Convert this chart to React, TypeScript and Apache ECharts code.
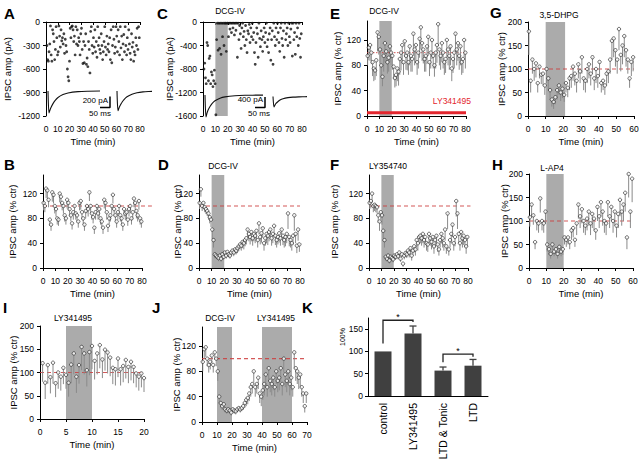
import React, { useEffect, useRef } from "react";
import * as echarts from "echarts";

const FONT = "'Liberation Sans', Arial, Helvetica, sans-serif";

// ---------------- DATA ----------------
const aStart = 0.8, aStep = 0.6;
const ampA = [
  -300, -480, -500, -380, -280, -50, -420, -500, -100, -150,
  -250, -480, -350, -60, -200, -420, -380, -50, -180, -320,
  -100, -240, -200, -280, -150, -400, -220, -300, -380, -600,
  -700, -750, -500, -80, -200, -60, -50, -100, -250, -180,
  -420, -60, -280, -100, -300, -200, -250, -420, -150, -80,
  -350, -530, -250, -520, -300, -150, -540, -460, -570, -250,
  -350, -650, -120, -60, -300, -400, -200, -320, -100, -380,
  -250, -450, -60, -300, -200, -350, -400, -150, -300, -480,
  -380, -250, -60, -320, -420, -180, -350, -280, -380, -200,
  -480, -100, -520, -300, -60, -220, -400, -320, -60, -180,
  -380, -100, -250, -420, -60, -330, -180, -480, -280, -160,
  -380, -60, -300, -420, -200, -350, -100, -280, -400, -480,
  -150, -320, -260, -500, -380, -420, -200, -300, -80, -350,
  -60, -200,
];
const ampC = [
  -800, -700, -950, -1050, -350, -400, -1000, -620, -580, -1050,
  -850, -900, -1100, -1000, -820, -1050, -1580, -300, -20, -480,
  -20, -450, -20, -550, -20, -250, -20, -400, -20, -20,
  -500, -20, -20, -250, -20, -120, -20, -180, -20, -100,
  -20, -220, -20, -140, -20, -600, -20, -300, -60, -200,
  -450, -100, -20, -250, -160, -400, -60, -300, -520, -150,
  -200, -40, -350, -100, -250, -20, -300, -180, -520, -720,
  -350, -100, -200, -600, -20, -280, -420, -150, -300, -500,
  -250, -100, -350, -180, -20, -420, -300, -520, -200, -100,
  -650, -300, -150, -720, -20, -250, -400, -100, -300, -20,
  -180, -350, -500, -100, -20, -280, -400, -150, -600, -20,
  -300, -200, -100, -400, -20, -250, -350, -120, -20, -580,
  -20, -300, -180, -550, -20, -250, -100, -400, -20, -280,
  -600, -200,
];
const traceTA1 = [0, 3, 5, 10, 15, 25, 35, 50, 75, 100, 150, 200, 260];
const traceA1 = [0, 0, -400, -345, -300, -230, -175, -118, -65, -36, -12, -4, -1];
const traceTA2 = [0, 3, 5, 10, 15, 25, 35, 50, 75, 100, 130, 160, 175];
const traceA2 = [0, 0, -360, -310, -270, -205, -155, -105, -58, -32, -16, -8, -6];
const traceTC1 = [0, 3, 5, 10, 15, 25, 35, 50, 75, 100, 150, 200, 290];
const traceC1 = [0, 0, -840, -690, -580, -440, -330, -220, -120, -70, -28, -12, -3];
const traceTC2 = [0, 3, 5, 10, 15, 25, 35, 50, 75, 100, 130, 160, 170];
const traceC2 = [-60, -60, -460, -380, -320, -250, -190, -140, -100, -80, -70, -65, -62];
const scaleBarA = [[310, -100], [310, -300], [260, -300]];
const scaleBarC = [[300, -80], [300, -480], [250, -480]];

const pctB = [
  105, 100, 128, 125, 110, 78, 70, 122, 118, 100,
  95, 80, 78, 120, 115, 105, 100, 85, 80, 110,
  105, 95, 85, 72, 90, 100, 88, 85, 75, 105,
  108, 90, 80, 70, 92, 100, 95, 122, 100, 88,
  82, 65, 90, 100, 88, 95, 80, 75, 65, 110,
  105, 90, 68, 80, 85, 100, 118, 95, 85, 75,
  90, 100, 85, 80, 70, 95, 88, 90, 78, 95,
  100, 80, 90, 112, 105, 92, 85, 108, 80, 75,
];
const errB = [
  12, 10, 15, 14, 12, 10, 10, 15, 14, 12,
  12, 10, 10, 14, 14, 12, 12, 10, 10, 14,
  12, 12, 10, 10, 12, 12, 10, 10, 10, 12,
  14, 12, 10, 10, 12, 12, 12, 14, 12, 10,
  10, 10, 12, 12, 10, 12, 10, 10, 10, 14,
  12, 12, 10, 10, 10, 12, 14, 12, 10, 10,
  12, 12, 10, 10, 10, 12, 10, 12, 10, 12,
  12, 10, 12, 14, 12, 12, 10, 14, 10, 10,
];
const pctD = [
  105, 127, 100, 105, 98, 95, 92, 88, 82, 78,
  62, 45, 22, 20, 18, 16, 20, 15, 22, 18,
  25, 20, 26, 22, 20, 25, 28, 25, 30, 28,
  32, 35, 38, 36, 42, 40, 45, 48, 62, 55,
  50, 58, 48, 55, 52, 60, 45, 72, 50, 56,
  64, 40, 48, 55, 52, 58, 62, 48, 55, 68,
  52, 45, 50, 56, 48, 62, 52, 45, 50, 55,
  88, 50, 45, 40, 52, 85, 55, 36, 62, 38,
];
const errD = [
  10, 12, 8, 10, 8, 8, 8, 10, 10, 12,
  15, 12, 6, 5, 5, 5, 5, 5, 5, 5,
  6, 5, 6, 5, 5, 6, 6, 6, 8, 6,
  8, 8, 8, 8, 10, 10, 10, 10, 15, 12,
  12, 15, 12, 12, 12, 15, 12, 18, 12, 15,
  15, 12, 12, 15, 15, 15, 15, 12, 15, 18,
  15, 12, 12, 15, 12, 15, 15, 12, 15, 15,
  25, 15, 12, 12, 15, 25, 15, 12, 18, 12,
];
const pctE = [
  95, 108, 112, 100, 85, 75, 72, 88, 132, 125,
  105, 80, 62, 95, 115, 102, 85, 92, 110, 100,
  95, 78, 60, 65, 75, 70, 90, 100, 112, 85,
  118, 95, 100, 85, 110, 95, 90, 130, 105, 112,
  85, 100, 122, 140, 115, 105, 90, 95, 110, 125,
  85, 100, 120, 95, 80, 100, 112, 145, 105, 95,
  115, 100, 85, 90, 120, 105, 95, 110, 75, 90,
  100, 130, 105, 115, 95, 110, 85, 90, 120, 100,
];
const errE = [
  15, 20, 25, 18, 22, 20, 15, 25, 30, 28,
  22, 18, 15, 25, 30, 20, 18, 22, 25, 20,
  22, 20, 15, 18, 20, 22, 25, 28, 30, 20,
  25, 22, 28, 20, 30, 25, 20, 35, 25, 28,
  20, 25, 30, 35, 28, 22, 20, 25, 28, 30,
  22, 25, 30, 20, 18, 25, 28, 35, 25, 22,
  30, 25, 20, 22, 28, 25, 22, 30, 20, 22,
  25, 30, 25, 28, 22, 30, 20, 22, 28, 25,
];
const pctF = [
  105, 108, 120, 100, 102, 100, 98, 85, 75, 90,
  85, 60, 45, 18, 15, 20, 12, 18, 16, 14,
  20, 18, 22, 19, 25, 15, 22, 7, 20, 24,
  22, 28, 25, 32, 20, 28, 35, 30, 45, 40,
  50, 52, 48, 55, 45, 50, 40, 38, 55, 48,
  42, 50, 35, 45, 52, 38, 30, 45, 55, 48,
  40, 62, 35, 88, 30, 45, 55, 70, 40, 50,
  108, 88, 55, 40, 58, 48, 52, 45, 35, 50,
];
const errF = [
  10, 12, 15, 10, 10, 10, 10, 12, 15, 12,
  15, 12, 12, 6, 5, 5, 5, 5, 5, 5,
  5, 5, 6, 5, 6, 5, 5, 5, 6, 6,
  6, 8, 8, 8, 8, 8, 10, 10, 12, 12,
  12, 12, 12, 15, 12, 12, 12, 12, 15, 12,
  12, 15, 12, 12, 15, 12, 10, 12, 15, 15,
  12, 18, 12, 25, 10, 12, 15, 20, 12, 15,
  25, 25, 15, 12, 15, 15, 15, 12, 12, 15,
];
const pctG = [
  180, 75, 120, 100, 112, 70, 105, 88, 90, 65,
  100, 80, 55, 35, 30, 40, 55, 65, 50, 58,
  45, 70, 60, 80, 85, 105, 90, 75, 110, 95,
  125, 80, 75, 100, 110, 90, 125, 80, 100, 85,
  115, 70, 75, 65, 90, 95, 120, 160, 165, 140,
  120, 185, 130, 150, 170, 140, 120, 80, 115, 125,
];
const errG = [
  50, 25, 30, 25, 30, 20, 25, 20, 25, 20,
  30, 25, 20, 15, 15, 15, 20, 20, 18, 20,
  15, 20, 20, 25, 25, 30, 25, 25, 30, 25,
  35, 25, 25, 30, 30, 25, 35, 25, 30, 25,
  30, 20, 20, 20, 25, 25, 30, 40, 40, 35,
  30, 45, 35, 40, 45, 35, 30, 20, 30, 30,
];
const pctH = [
  108, 135, 112, 55, 100, 95, 148, 100, 95, 120,
  50, 40, 30, 50, 35, 40, 30, 45, 35, 40,
  65, 60, 65, 55, 80, 85, 60, 95, 135, 110,
  125, 100, 90, 105, 120, 95, 115, 105, 80, 130,
  110, 140, 120, 100, 95, 140, 110, 130, 100, 120,
  90, 115, 145, 120, 135, 160, 65, 200, 120, 190,
];
const errH = [
  20, 25, 20, 15, 20, 20, 30, 20, 20, 25,
  15, 12, 10, 12, 10, 10, 10, 12, 10, 12,
  15, 15, 15, 15, 20, 20, 15, 25, 30, 25,
  30, 25, 20, 25, 30, 25, 30, 25, 20, 30,
  25, 30, 30, 25, 25, 30, 25, 30, 25, 30,
  25, 30, 35, 30, 35, 40, 25, 50, 35, 50,
];
const pctI = [
  120, 78, 116, 90, 121, 77, 100, 91, 110, 95,
  78, 117, 141, 91, 116, 155, 141, 105, 144, 157,
  125, 141, 159, 128, 149, 143, 132, 110, 107, 130,
  107, 114, 127, 112, 123, 112, 98, 91, 98, 88,
];
const errI = [
  40, 35, 40, 35, 45, 30, 35, 30, 35, 30,
  30, 40, 45, 35, 40, 50, 45, 35, 50, 50,
  40, 45, 50, 40, 45, 45, 40, 35, 35, 40,
  35, 35, 40, 35, 40, 35, 30, 30, 30, 30,
];
const pctJ = [
  95, 115, 118, 100, 90, 95, 105, 90, 110, 100,
  80, 40, 30, 25, 28, 20, 18, 20, 18, 15,
  20, 18, 17, 20, 22, 20, 22, 25, 30, 35,
  38, 45, 55, 60, 80, 55, 60, 70, 45, 40,
  50, 60, 75, 55, 85, 65, 60, 70, 55, 80,
  65, 70, 85, 60, 100, 75, 65, 80, 60, 70,
  55, 110, 85, 80, 70, 75, 55, 45, 25, 45,
];
const errJ = [
  15, 15, 15, 12, 12, 12, 12, 12, 12, 12,
  15, 10, 8, 6, 6, 5, 5, 5, 5, 5,
  5, 5, 5, 5, 5, 5, 5, 6, 8, 10,
  10, 12, 15, 15, 18, 15, 15, 18, 15, 15,
  15, 18, 20, 15, 20, 18, 18, 20, 15, 20,
  18, 20, 22, 18, 22, 20, 18, 20, 18, 20,
  15, 25, 20, 20, 18, 20, 15, 15, 10, 15,
];
const shadeC = [[10, 20]];
const shadeE = [[10, 20]];
const shadeG = [[10, 21]];
const shadeD = [[10, 20]];
const shadeF = [[10, 20]];
const shadeH = [[10, 20]];
const shadeI = [[5, 10]];
const shadeJ = [[10, 20], [40, 60]];
const barE_LY = [[0, 80, 5]];
const catK = ["control", "LY341495", "LTD & Tonic", "LTD"];
const valK = [100, 140, 57, 68];
const errK = [0, 17, 8, 14];
const sigK = [[0, 1, 170, 118, 166], [2, 3, 94, 76, 88]];
const ticksK = [0, 50, 100, 150];
const K_MAX = 175;

// ---------------- LAYOUT ----------------
const L: any = {
  A: { grid: { left: 46, top: 22, width: 94, height: 94 }, xMax: 80, xInt: 10, yMin: -1200, yMax: 0, yTicks: [-1200, -900, -600, -300, 0], yName: "IPSC amp (pA)", yGap: 31 },
  C: { grid: { left: 203, top: 22, width: 99, height: 94 }, xMax: 80, xInt: 10, yMin: -1600, yMax: 0, yTicks: [-1600, -1200, -800, -400, 0], yName: "IPSC amp (pA)", yGap: 26 },
  E: { grid: { left: 367, top: 21, width: 99, height: 95 }, xMax: 80, xInt: 10, yMin: 0, yMax: 150, yTicks: [0, 40, 80, 120], yName: "IPSC amp (% ctr)", yGap: 22 },
  G: { grid: { left: 528, top: 22, width: 106, height: 94 }, xMax: 60, xInt: 10, yMin: 0, yMax: 200, yTicks: [0, 50, 100, 150, 200], yName: "IPSC amp (% ctr)", yGap: 19 },
  B: { grid: { left: 43, top: 175, width: 99, height: 93 }, xMax: 80, xInt: 10, yMin: 0, yMax: 150, yTicks: [0, 40, 80, 120], yName: "IPSC amp (% ctr)", yGap: 23 },
  D: { grid: { left: 199, top: 175, width: 101, height: 93 }, xMax: 80, xInt: 10, yMin: 0, yMax: 150, yTicks: [0, 40, 80, 120], yName: "IPSC amp (% ctr)", yGap: 14 },
  F: { grid: { left: 369, top: 175, width: 99, height: 93 }, xMax: 80, xInt: 10, yMin: 0, yMax: 150, yTicks: [0, 40, 80, 120], yName: "IPSC amp (% ctr)", yGap: 27 },
  H: { grid: { left: 529, top: 174, width: 104, height: 94 }, xMax: 60, xInt: 10, yMin: 0, yMax: 200, yTicks: [0, 50, 100, 150, 200], yName: "IPSC amp (% ctr)", yGap: 17 },
  I: { grid: { left: 40, top: 326, width: 104, height: 93 }, xMax: 20, xInt: 5, yMin: 0, yMax: 200, yTicks: [0, 50, 100, 150, 200], yName: "IPSC amp (% ctr)", yGap: 19 },
  J: { grid: { left: 202, top: 327, width: 105, height: 95 }, xMax: 70, xInt: 10, yMin: 0, yMax: 150, yTicks: [0, 40, 80, 120], yName: "IPSC amp (% ctr)", yGap: 18 },
};
const K_GRID = { left: 368, top: 318, width: 120, height: 78 };

const RED = "rgba(205,60,60,0.85)";
const fmt = (v: number) => String(v);

function txt(text: string, x: number, y: number, o: any = {}) {
  return {
    type: "text", x, y, silent: true, rotation: o.rot || 0, z: 10,
    style: {
      text, fill: o.color || "#000", font: `${o.bold ? "bold " : ""}${o.size || 8}px ${FONT}`,
      align: o.align || "center", verticalAlign: o.va || "middle",
      textAlign: o.align || "center", textVerticalAlign: o.va || "middle",
    },
  };
}

function buildOption() {
  const grid: any[] = [], xAxis: any[] = [], yAxis: any[] = [], series: any[] = [], graphic: any[] = [];
  const line = { lineStyle: { color: "#000", width: 1 } };
  const lab = { fontSize: 8.5, color: "#000", fontFamily: FONT, formatter: fmt };
  const nameStyle = { fontSize: 9.5, color: "#000", fontFamily: FONT };

  const addAxes = (p: any) => {
    const i = grid.length;
    grid.push({ ...p.grid, containLabel: false, outerBoundsMode: "none" });
    xAxis.push({
      gridIndex: i, type: "value", min: 0, max: p.xMax, interval: p.xInt, offset: 5,
      axisLine: line, axisTick: { length: 3, ...line }, splitLine: { show: false },
      axisLabel: { ...lab, margin: 3 },
      name: "Time (min)", nameLocation: "middle", nameGap: 15, nameTextStyle: nameStyle, nameMoveOverlap: false,
    });
    yAxis.push({
      gridIndex: i, type: "value", min: p.yMin, max: p.yMax, offset: 3,
      axisLine: line, axisTick: { length: 3, ...line, customValues: p.yTicks }, splitLine: { show: false },
      axisLabel: { ...lab, margin: 3, customValues: p.yTicks },
      name: p.yName, nameLocation: "middle", nameGap: p.yGap, nameTextStyle: nameStyle, nameMoveOverlap: false,
    });
    return i;
  };

  const shadeSeries = (i: number, p: any, shades: number[][]) => ({
    type: "custom", xAxisIndex: i, yAxisIndex: i, z: 1, silent: true, clip: false,
    data: shades.map((s) => [s[0], s[1], p.yMin, p.yMax]),
    encode: { x: [0, 1], y: [2, 3] },
    renderItem: (_: any, api: any) => {
      const a = api.coord([api.value(0), api.value(3)]);
      const b = api.coord([api.value(1), api.value(2)]);
      return { type: "rect", shape: { x: a[0], y: a[1], width: b[0] - a[0], height: b[1] - a[1] }, style: { fill: "#ababab" } };
    },
  });

  const hlineSeries = (i: number, data: number[][], style: any, z = 2) => ({
    type: "custom", xAxisIndex: i, yAxisIndex: i, z, silent: true, clip: false,
    data, encode: { x: [0, 1], y: 2 },
    renderItem: (_: any, api: any) => {
      const a = api.coord([api.value(0), api.value(2)]);
      const b = api.coord([api.value(1), api.value(2)]);
      return { type: "line", shape: { x1: a[0], y1: a[1], x2: b[0], y2: b[1] }, style };
    },
  });

  const circlePanel = (p: any, vals: number[], errs: number[], start: number, step: number, shades: number[][], refEnd: number, dotted = false) => {
    const i = addAxes(p);
    const ts = vals.map((_, k) => start + k * step);
    if (shades.length) series.push(shadeSeries(i, p, shades));
    series.push(hlineSeries(i, [[0, refEnd, 100]], { stroke: RED, lineWidth: dotted ? 1 : 1.2, lineDash: dotted ? [1.5, 1.5] : [4, 3] }, 2));
    series.push({
      type: "custom", xAxisIndex: i, yAxisIndex: i, z: 3, silent: true, clip: false,
      data: vals.map((v, k) => [ts[k], v, errs[k]]), encode: { x: 0, y: 1 },
      renderItem: (_: any, api: any) => {
        const t = api.value(0), v = api.value(1), e = api.value(2);
        const a = api.coord([t, v]);
        const b = api.coord([t, v - e]);
        return { type: "line", shape: { x1: a[0], y1: a[1], x2: b[0], y2: b[1] }, style: { stroke: "#8a8a8a", lineWidth: 1 } };
      },
    });
    series.push({
      type: "scatter", xAxisIndex: i, yAxisIndex: i, z: 4, silent: true, clip: false,
      data: vals.map((v, k) => [ts[k], v]), symbol: "circle", symbolSize: 3.4,
      itemStyle: { color: "#fff", borderColor: "#1a1a1a", borderWidth: 0.8 },
    });
    return i;
  };

  const rawPanel = (p: any, vals: number[], shades: number[][]) => {
    const i = addAxes(p);
    if (shades.length) series.push(shadeSeries(i, p, shades));
    series.push({
      type: "scatter", xAxisIndex: i, yAxisIndex: i, z: 4, silent: true, clip: false,
      data: vals.map((v, k) => [aStart + k * aStep, v]), symbol: "circle", symbolSize: 2.8,
      itemStyle: { color: "#111" },
    });
  };

  const inset = (g: any, xMax: number, yMin: number, traces: { t: number[]; v: number[]; off: number }[], bar: number[][]) => {
    const i = grid.length;
    grid.push({ ...g, containLabel: false, outerBoundsMode: "none" });
    xAxis.push({ gridIndex: i, type: "value", min: 0, max: xMax, show: false });
    yAxis.push({ gridIndex: i, type: "value", min: yMin, max: 0, show: false });
    traces.forEach((tr) => {
      series.push({
        type: "line", xAxisIndex: i, yAxisIndex: i, z: 5, silent: true, symbol: "none", clip: false,
        data: tr.t.map((t, k) => [t + tr.off, tr.v[k]]), smooth: 0.3,
        lineStyle: { color: "#111", width: 1.1 },
      });
    });
    series.push({
      type: "line", xAxisIndex: i, yAxisIndex: i, z: 5, silent: true, symbol: "none", clip: false,
      data: bar, lineStyle: { color: "#000", width: 1.5 },
    });
  };

  rawPanel(L.A, ampA, []);
  inset({ left: 48, top: 91, width: 104, height: 22 }, 520, -400,
    [{ t: traceTA1, v: traceA1, off: 0 }, { t: traceTA2, v: traceA2, off: 345 }], scaleBarA);
  rawPanel(L.C, ampC, shadeC);
  inset({ left: 205, top: 95, width: 105, height: 22 }, 525, -840,
    [{ t: traceTC1, v: traceC1, off: 0 }, { t: traceTC2, v: traceC2, off: 340 }], scaleBarC);
  const iE = circlePanel(L.E, pctE, errE, 0.5, 1, shadeE, 80, true);
  series.push(hlineSeries(iE, barE_LY, { stroke: "#e3262e", lineWidth: 3 }, 5));
  circlePanel(L.G, pctG, errG, 0.5, 1, shadeG, 60);
  circlePanel(L.B, pctB, errB, 0.5, 1, [], 88);
  circlePanel(L.D, pctD, errD, 0.5, 1, shadeD, 80);
  circlePanel(L.F, pctF, errF, 0.5, 1, shadeF, 82);
  circlePanel(L.H, pctH, errH, 0.5, 1, shadeH, 60);
  circlePanel(L.I, pctI, errI, 0.5, 0.5, shadeI, 20);
  circlePanel(L.J, pctJ, errJ, 0.5, 1, shadeJ, 70);

  // K bar chart
  const iK = grid.length;
  grid.push({ ...K_GRID, containLabel: false, outerBoundsMode: "none" });
  xAxis.push({
    gridIndex: iK, type: "value", min: -0.5, max: 3.5,
    axisLine: { show: true, onZero: false, ...line }, axisTick: { show: false }, splitLine: { show: false },
    axisLabel: {
      fontSize: 10.5, color: "#000", fontFamily: FONT, rotate: 90, margin: 7,
      customValues: catK.map((_, k) => k), formatter: (v: number) => catK[Math.round(v)] ?? "",
    },
  });
  yAxis.push({
    gridIndex: iK, type: "value", min: 0, max: K_MAX, position: "left",
    axisLine: { show: true, onZero: false, ...line },
    axisTick: { show: true, length: 3, ...line, customValues: ticksK }, splitLine: { show: false },
    axisLabel: { show: true, ...lab, margin: 5, customValues: ticksK },
  });
  series.push({
    type: "bar", xAxisIndex: iK, yAxisIndex: iK, data: valK.map((v, k) => [k, v]), barWidth: 17, silent: true, z: 2,
    itemStyle: { color: "#404040" },
  });
  series.push({
    type: "custom", xAxisIndex: iK, yAxisIndex: iK, z: 1, silent: true, clip: false,
    data: valK.map((v, k) => [k, v, errK[k]]), encode: { x: 0, y: 1 },
    renderItem: (_: any, api: any) => {
      const k = api.value(0), v = api.value(1), e = api.value(2);
      if (!e) return { type: "group", children: [] };
      const a = api.coord([k, v]);
      const b = api.coord([k, v + e]);
      const st = { stroke: "#404040", lineWidth: 1.3 };
      return {
        type: "group", children: [
          { type: "line", shape: { x1: a[0], y1: a[1], x2: b[0], y2: b[1] }, style: st },
          { type: "line", shape: { x1: b[0] - 3.5, y1: b[1], x2: b[0] + 3.5, y2: b[1] }, style: st },
        ],
      };
    },
  });
  series.push({
    type: "custom", xAxisIndex: iK, yAxisIndex: iK, z: 3, silent: true, clip: false,
    data: sigK, encode: { x: [0, 1], y: [2, 3, 4] },
    renderItem: (_: any, api: any) => {
      const c1 = api.value(0), c2 = api.value(1), top = api.value(2), yl = api.value(3), yr = api.value(4);
      const p1 = api.coord([c1, yl]), p2 = api.coord([c1, top]), p3 = api.coord([c2, top]), p4 = api.coord([c2, yr]);
      return {
        type: "group", children: [
          { type: "polyline", shape: { points: [p1, p2, p3, p4] }, style: { stroke: "#222", lineWidth: 1.3, fill: "none" } },
          { type: "text", x: (p2[0] + p3[0]) / 2, y: p2[1] + 1, style: { text: "*", fill: "#000", font: `9px ${FONT}`, align: "center", verticalAlign: "bottom", textAlign: "center", textVerticalAlign: "bottom" } },
        ],
      };
    },
  });

  const letters: [string, number, number][] = [
    ["A", 4, 6], ["C", 157, 6], ["E", 330, 6], ["G", 490, 5],
    ["B", 4, 157], ["D", 158, 157], ["F", 330, 157], ["H", 492, 157],
    ["I", 3, 300], ["J", 152, 300], ["K", 302, 300],
  ];
  letters.forEach(([t, x, y]) => graphic.push(txt(t, x, y, { bold: true, size: 15, align: "left", va: "top" })));
  const drugs: [string, number, number][] = [
    ["DCG-IV", 230, 11], ["DCG-IV", 384, 11], ["3,5-DHPG", 559, 15],
    ["DCG-IV", 223, 166], ["LY354740", 388, 166], ["L-AP4", 552, 168],
    ["LY341495", 73, 318], ["DCG-IV", 220, 318], ["LY341495", 276, 318],
  ];
  drugs.forEach(([t, x, y]) => graphic.push(txt(t, x, y, { size: 8.5 })));
  graphic.push(txt("200 pA", 108, 100, { size: 8, align: "right" }));
  graphic.push(txt("50 ms", 100, 113.5, { size: 8 }));
  graphic.push(txt("400 pA", 263, 99.5, { size: 8, align: "right" }));
  graphic.push(txt("50 ms", 259, 113.5, { size: 8 }));
  graphic.push(txt("LY341495", 471, 101, { size: 8.5, align: "right", color: "#e3262e" }));
  graphic.push(txt("100%", 342, 337, { size: 7, rot: Math.PI / 2 }));

  return { animation: false, backgroundColor: "#fff", textStyle: { fontFamily: FONT }, grid, xAxis, yAxis, series, graphic };
}

export default function App() {
  const ref = useRef<HTMLDivElement>(null);
  useEffect(() => {
    if (!ref.current) return;
    const chart = echarts.init(ref.current, undefined, { renderer: "svg" });
    chart.setOption(buildOption() as any);
    return () => chart.dispose();
  }, []);
  return <div ref={ref} style={{ position: "fixed", left: 0, top: 0, width: 640, height: 462, background: "#fff" }} />;
}
